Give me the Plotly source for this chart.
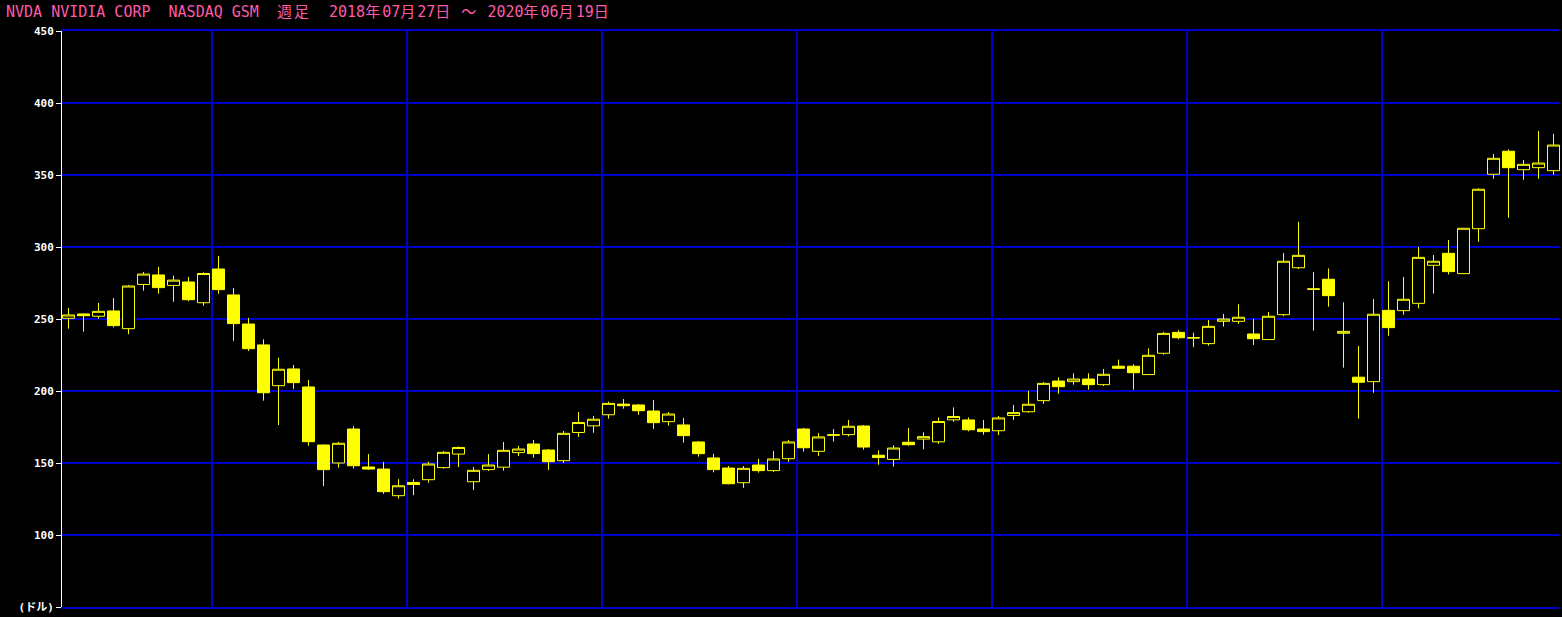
import plotly.graph_objects as go
import pandas as pd

# Weekly candles, week ending Fridays from 2018-07-27 to 2020-06-19 (100 weeks)
dates = pd.date_range("2018-07-27", "2020-06-19", freq="7D")

opens = [250.5, 253.5, 251.9, 255.6, 243.3, 274.0, 280.6, 273.3, 275.7, 261.3,
         284.7, 266.7, 246.5, 232.0, 203.7, 215.3, 202.8, 162.5, 150.0, 173.6,
         147.2, 145.8, 127.3, 136.5, 138.4, 146.8, 156.2, 137.0, 145.4, 147.1,
         157.2, 163.2, 159.0, 151.6, 171.2, 175.8, 183.5, 190.9, 190.3, 186.1,
         178.7, 176.4, 164.6, 153.5, 146.5, 136.3, 148.6, 144.7, 153.0, 173.6,
         158.1, 169.2, 169.7, 175.7, 155.4, 152.5, 164.4, 166.6, 164.7, 180.0,
         179.9, 173.6, 172.4, 183.0, 185.6, 193.3, 206.9, 206.5, 208.3, 204.4,
         217.2, 217.2, 211.4, 226.2, 240.7, 236.8, 232.9, 248.4, 248.4, 239.6,
         235.7, 253.0, 285.6, 270.5, 277.6, 240.1, 209.6, 206.5, 256.0, 255.8,
         260.9, 287.3, 295.6, 281.5, 312.7, 350.5, 366.5, 353.7, 355.1, 353.0]
highs = [257.6, 253.8, 261.1, 264.6, 273.6, 282.6, 286.1, 280.1, 279.2, 282.4,
         293.8, 271.5, 250.7, 235.9, 223.1, 218.1, 207.6, 162.8, 164.6, 175.5,
         156.2, 150.7, 138.8, 138.7, 150.9, 158.3, 161.5, 147.2, 156.2, 164.6,
         161.8, 166.0, 159.7, 172.2, 185.4, 182.6, 192.6, 194.4, 190.9, 193.8,
         185.4, 181.3, 165.3, 156.3, 147.9, 147.9, 152.8, 158.3, 166.0, 174.3,
         170.8, 173.6, 179.9, 176.4, 158.8, 162.3, 174.3, 171.3, 181.6, 188.6,
         181.6, 179.9, 182.6, 190.4, 200.2, 206.2, 209.5, 212.3, 212.3, 215.3,
         221.8, 218.5, 229.6, 241.0, 242.2, 240.5, 249.3, 253.5, 260.2, 250.0,
         254.9, 295.8, 317.4, 282.6, 285.1, 261.6, 231.3, 263.9, 276.2, 279.2,
         300.0, 294.4, 304.9, 313.2, 340.8, 364.6, 367.8, 360.4, 380.6, 378.5]
lows = [243.3, 241.2, 250.2, 244.2, 239.4, 269.6, 267.6, 262.0, 262.3, 259.2,
        267.6, 234.9, 227.8, 193.3, 176.4, 201.6, 162.0, 133.9, 146.8, 146.1,
        145.4, 128.6, 125.2, 127.6, 136.3, 146.1, 147.2, 131.3, 144.4, 144.7,
        154.8, 153.7, 145.2, 150.0, 168.2, 171.0, 180.8, 187.7, 183.5, 173.8,
        175.9, 164.2, 154.4, 143.5, 135.2, 132.8, 143.3, 143.8, 150.9, 157.9,
        154.9, 164.9, 168.5, 159.3, 148.8, 147.5, 162.0, 159.5, 163.3, 178.6,
        172.0, 169.6, 169.4, 180.0, 184.9, 191.2, 198.1, 204.4, 200.9, 203.5,
        215.3, 200.9, 211.1, 225.2, 235.9, 230.4, 231.5, 244.7, 246.7, 232.0,
        235.4, 252.1, 284.7, 241.9, 258.5, 216.2, 180.8, 198.8, 238.4, 253.0,
        257.4, 267.6, 281.0, 281.3, 303.7, 347.4, 320.3, 346.7, 347.4, 350.2]
closes = [252.8, 252.3, 255.3, 245.4, 272.9, 281.2, 271.8, 277.0, 263.4, 281.6,
          270.4, 246.8, 229.4, 198.8, 215.1, 205.8, 164.8, 145.4, 163.7, 148.1,
          145.8, 130.1, 134.2, 135.1, 149.3, 157.4, 160.8, 144.9, 148.6, 158.8,
          159.7, 156.5, 150.9, 170.6, 178.1, 180.4, 191.4, 189.8, 186.3, 178.0,
          184.0, 169.0, 156.5, 145.4, 135.6, 146.3, 144.7, 152.8, 164.6, 160.6,
          168.1, 169.6, 175.5, 161.1, 153.8, 160.4, 162.7, 168.3, 178.8, 182.3,
          173.1, 171.8, 181.3, 185.0, 190.8, 205.3, 203.0, 208.3, 204.4, 211.6,
          215.8, 212.7, 224.8, 240.0, 237.0, 237.0, 244.9, 250.0, 251.2, 236.3,
          251.9, 290.1, 294.2, 270.9, 266.2, 241.4, 206.1, 253.3, 244.0, 263.7,
          292.8, 290.1, 282.9, 313.0, 340.1, 361.6, 355.1, 357.4, 358.3, 370.8]

y_ticks = [50, 100, 150, 200, 250, 300, 350, 400, 450]
y_tick_labels = ["(ドル)", "100", "150", "200", "250", "300", "350", "400", "450"]
title_text = "NVDA NVIDIA CORP  NASDAQ GSM  週足  2018年07月27日 ～ 2020年06月19日"

YELLOW = "#ffff00"
BLUE = "#0000cc"

# plot area: 1498 px wide (15 px per week), 576 px tall (1.44 px per dollar);
# x offset chosen so candle centres fall on pixel centres (crisp 1px wicks)
X_OFFSET = 0.4333
X_RANGE = [-X_OFFSET, 99.8667 - X_OFFSET]
Y_RANGE = [50, 450]

x = list(range(len(dates)))
# vertical grid lines at the start of each calendar quarter (left edge of that week's slot)
quarter_lines = [i - X_OFFSET for i in range(1, len(dates))
                 if dates[i].quarter != dates[i - 1].quarter]

# full-width (CJK) characters take two half-width cells in the original bitmap font
title_html = "".join(
    f'<span style="letter-spacing:2px">{ch}</span>' if ord(ch) > 0x2000 else ch
    for ch in title_text
)

fig = go.Figure(go.Candlestick(
    x=x, open=opens, high=highs, low=lows, close=closes,
    increasing=dict(fillcolor="#000000", line=dict(color=YELLOW, width=1)),
    decreasing=dict(fillcolor=YELLOW, line=dict(color=YELLOW, width=1)),
    whiskerwidth=0,
    hoverinfo="x+y",
))

fig.update_layout(
    width=1562, height=617,
    paper_bgcolor="#000000", plot_bgcolor="#000000",
    margin=dict(l=62, r=2, t=31, b=10, pad=0),
    showlegend=False,
    boxgap=0.2, boxgroupgap=0,
    title=dict(
        text=title_html, x=6 / 1562, xanchor="left", xref="container",
        y=1 - 12 / 617, yanchor="middle", yref="container",
        font=dict(family="DejaVu Sans Mono, Noto Sans CJK JP", size=15, color="#ff5aa8"),
    ),
    xaxis=dict(
        range=X_RANGE, tickvals=quarter_lines, showticklabels=False, ticks="",
        showgrid=True, gridcolor=BLUE, gridwidth=2,
        showline=True, linecolor=BLUE, linewidth=2, mirror=True,
        zeroline=False, rangeslider=dict(visible=False),
    ),
    yaxis=dict(
        range=Y_RANGE, tickvals=y_ticks, ticktext=y_tick_labels,
        ticks="outside", ticklen=5, tickwidth=1, tickcolor="#ffffff",
        showline=True, linecolor="#ffffff", linewidth=1, mirror=False,
        showgrid=True, gridcolor=BLUE, gridwidth=2, zeroline=False,
        tickfont=dict(family="DejaVu Sans Mono, Noto Sans CJK JP", size=11,
                      color="#ffffff", weight="bold"),
    ),
)

fig.write_html(
    "out.html",
    config={"displayModeBar": False},
    post_script="document.body.style.margin='0';document.body.style.overflow='hidden';document.body.style.background='#000';",
)
